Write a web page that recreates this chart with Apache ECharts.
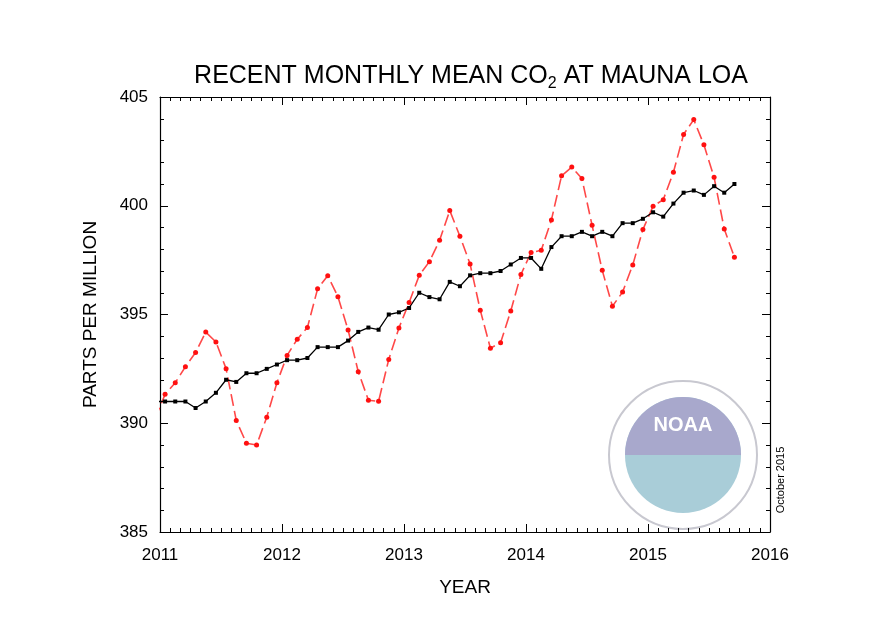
<!DOCTYPE html><html><head><meta charset="utf-8"><script src="https://cdn.jsdelivr.net/npm/echarts@6/dist/echarts.min.js"></script></head><body style="margin:0;background:#fff"><div id="c" style="width:872px;height:639px"></div><script>
const months = [];
for (let y = 2010; y <= 2015; y++) for (let m = 0; m < 12; m++) months.push(+(y + (m + 0.5) / 12).toFixed(4));
const monthly = [390.2,
391.33,391.86,392.60,393.25,394.19,393.74,392.51,390.13,389.08,389.00,390.28,391.86,
393.12,393.86,394.40,396.18,396.78,395.82,394.29,392.37,391.06,391.01,392.93,394.38,
395.55,396.80,397.43,398.41,399.78,398.60,397.32,395.20,393.45,393.70,395.16,396.84,
397.85,397.95,399.35,401.38,401.78,401.25,399.10,397.03,395.38,396.03,397.28,398.91,
399.98,400.28,401.54,403.28,403.96,402.80,401.31,398.93,397.63];
const trend = [391.0,
391.0,391.0,391.0,390.7,391.0,391.4,392.0,391.9,392.3,392.3,392.5,392.7,
392.9,392.9,393.0,393.5,393.5,393.5,393.8,394.2,394.4,394.3,395.0,395.1,
395.3,396.0,395.8,395.7,396.5,396.3,396.8,396.9,396.9,397.0,397.3,397.6,
397.6,397.1,398.1,398.6,398.6,398.8,398.6,398.8,398.6,399.2,399.2,399.4,
399.7,399.5,400.1,400.6,400.7,400.5,400.9,400.6,401.0];
const xTicks = [2011,2012,2013,2014,2015,2016];
const yTicks = [385,390,395,400,405];
const xs = months.slice(11);
const ch = echarts.init(document.getElementById('c'));
const F = 'Liberation Sans, Arial, sans-serif';
const tick = {inside:true,length:8,lineStyle:{color:'#000'}};
const xBase = {type:'value',min:xTicks[0],max:xTicks[xTicks.length-1],interval:1,axisLine:{lineStyle:{color:'#000',width:1.2}},
  axisTick:tick,minorTick:{show:true,splitNumber:12,length:4,lineStyle:{color:'#000'}},splitLine:{show:false}};
const yBase = {type:'value',min:yTicks[0],max:yTicks[yTicks.length-1],interval:5,axisLine:{lineStyle:{color:'#000',width:1.2}},
  axisTick:tick,minorTick:{show:true,splitNumber:5,length:4,lineStyle:{color:'#000'}},splitLine:{show:false}};
ch.setOption({
  animation:false,
  title:{text:'{a|RECENT MONTHLY MEAN CO}{s|2}{a| AT MAUNA LOA}',left:466,top:55,textAlign:'center',
    textStyle:{rich:{a:{fontFamily:F,fontSize:25,fontWeight:'normal',color:'#000'},s:{fontFamily:F,fontSize:16,fontWeight:'normal',color:'#000',padding:[16,0,0,0]}}}},
  grid:{left:160,right:102,top:97,bottom:107},
  xAxis:[Object.assign({},xBase,{position:'bottom',name:'YEAR',nameLocation:'middle',nameGap:46,
    nameTextStyle:{fontFamily:F,fontSize:19,color:'#000'},
    axisLabel:{margin:15,fontFamily:F,fontSize:17,color:'#000',formatter:v=>String(v)}}),
    Object.assign({},xBase,{position:'top',axisLabel:{show:false}})],
  yAxis:[Object.assign({},yBase,{position:'left',name:'PARTS PER MILLION',nameLocation:'middle',nameGap:60,
    nameTextStyle:{fontFamily:F,fontSize:19,color:'#000'},
    axisLabel:{margin:12,fontFamily:F,fontSize:17,color:'#000'}}),
    Object.assign({},yBase,{position:'right',axisLabel:{show:false}})],
  series:[
    {type:'line',data:xs.map((x,i)=>[x,monthly[i]]),symbol:'circle',symbolSize:5,clip:true,
     lineStyle:{color:'#ff4848',width:1.6,type:[12,5]},itemStyle:{color:'#ff1010'}},
    {type:'line',data:xs.map((x,i)=>[x,trend[i]]),symbol:'rect',symbolSize:4,clip:true,
     lineStyle:{color:'#000',width:1.3},itemStyle:{color:'#000'}}
  ],
  graphic:[
    {type:'circle',shape:{cx:683,cy:455,r:74},style:{fill:'#fff',stroke:'#c8c8d0',lineWidth:2}},
    {type:'circle',shape:{cx:683,cy:455,r:58},style:{fill:'#a9cdd8'}},
    {type:'sector',shape:{cx:683,cy:455,r:58,startAngle:Math.PI,endAngle:2*Math.PI},style:{fill:'#a8a8cc'}},
    {type:'text',style:{x:683,y:425,text:'NOAA',fill:'#fff',fontFamily:F,fontSize:20,fontWeight:'bold',align:'center',verticalAlign:'middle'}},
    {type:'text',rotation:Math.PI/2,x:781,y:480,style:{text:'October 2015',fill:'#000',fontFamily:F,fontSize:11,align:'center',verticalAlign:'middle'}}
  ]
});
</script></body></html>
